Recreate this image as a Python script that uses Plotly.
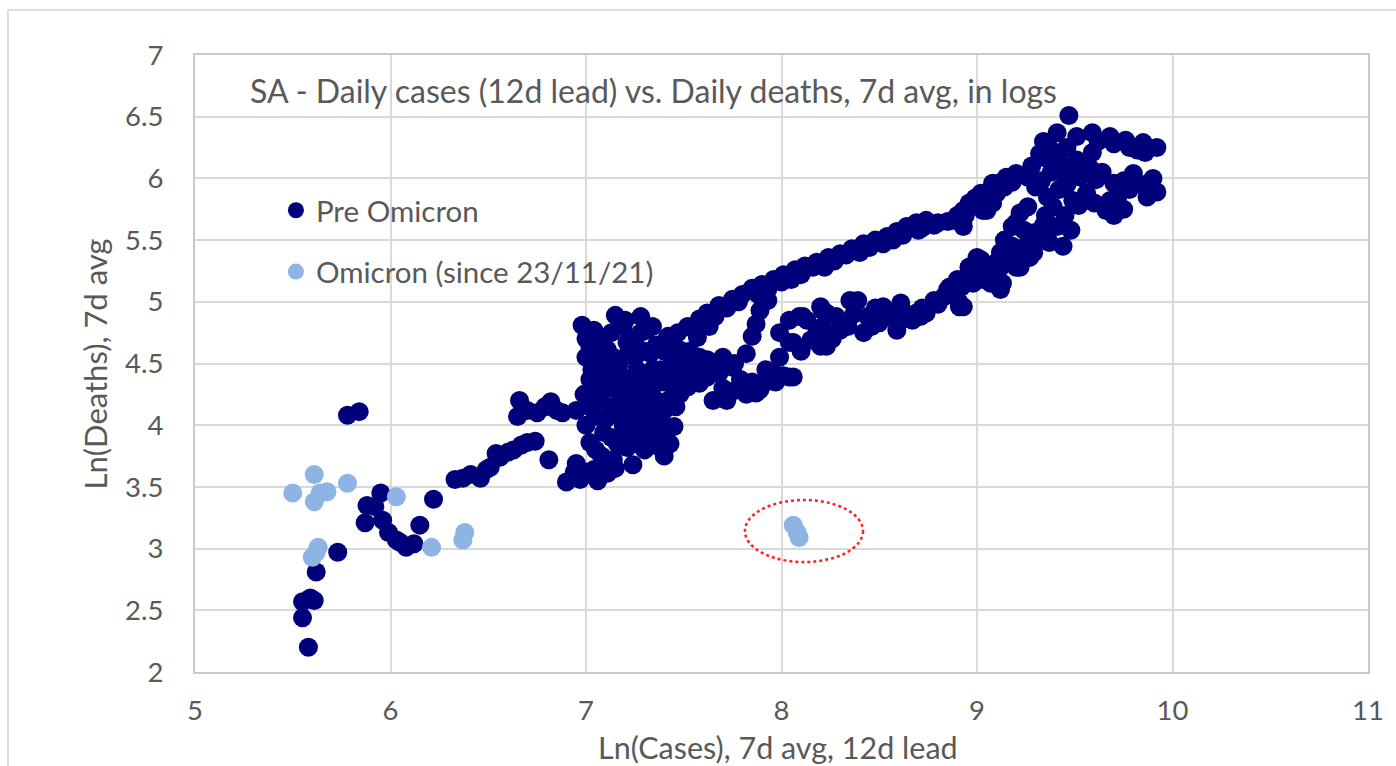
import plotly.graph_objects as go

# ---- data ----
pre_x = [
 5.58,5.55,5.55,5.59,5.61,5.62,5.73,
 5.78,5.84,
 5.87,5.88,5.92,5.95,5.96,5.99,6.03,6.05,6.08,6.12,6.15,6.22,
 6.33,6.37,6.41,6.46,6.49,6.51,6.54,6.56,6.60,6.63,6.67,6.70,6.74,6.81,
 6.65,6.66,6.70,6.75,6.79,6.82,6.85,6.88,6.95,7.02,
 6.90,6.97,6.95,7.00,7.04,7.08,7.11,7.14,7.21,7.24,7.02,7.05,7.09,7.05,7.00,
 6.98,7.04,7.02,7.00,7.04,7.02,7.05,7.07,7.11,7.08,7.12,7.10,
 7.15,7.19,7.28,7.31,7.21,7.17,7.19,7.22,7.26,7.29,7.33,7.36,7.40,7.41,7.38,7.45,7.43,7.48,7.57,7.63,7.52,7.62,7.65,
 7.15,7.25,7.30,7.35,7.28,7.32,7.38,7.45,7.40,7.25,7.18,7.13,7.20,7.36,7.50,7.46,7.55,7.42,7.34,7.23,7.27,
 7.00,7.03,7.06,7.09,7.13,7.10,7.13,7.16,7.19,7.22,7.26,7.30,7.33,7.36,7.40,7.43,7.26,7.30,7.34,7.22,7.30,
 7.40,7.44,7.47,7.36,7.28,7.20,7.18,7.14,7.24,7.32,7.38,7.42,7.48,7.08,7.16,7.12,6.94,7.06,7.15,7.04,6.99,
 7.41,7.47,7.52,7.58,7.62,7.68,7.75,7.80,7.85,7.90,7.96,8.01,8.07,8.12,8.18,8.24,8.30,8.36,8.42,8.48,8.54,8.59,8.64,8.69,8.74,8.80,8.85,8.90,8.93,8.96,8.99,9.03,9.07,9.11,9.15,
 7.55,7.66,7.72,7.78,7.93,8.00,8.10,8.16,8.27,8.33,8.45,8.52,8.62,8.70,8.78,8.88,8.94,9.00,9.05,9.10,9.14,9.18,9.20,
 7.70,7.88,8.05,8.22,8.40,8.57,8.72,
 7.89,7.85,7.82,7.93,7.87,
 7.48,7.58,7.67,7.72,7.87,7.96,8.06,7.58,7.65,7.72,7.79,7.89,7.58,7.62,7.75,8.01,7.92,
 7.50,7.55,7.60,7.68,7.70,7.76,7.82,7.85,7.92,7.97,7.53,7.70,7.76,
 7.99,8.04,8.06,8.13,8.15,8.20,8.21,8.23,8.23,8.30,8.16,8.39,8.44,8.42,8.50,8.59,8.61,8.67,8.74,8.83,8.91,8.90,8.96,9.00,
 7.99,8.09,8.21,8.35,8.52,8.61,8.69,8.78,8.86,8.93,9.03,9.12,9.22,8.71,8.85,8.96,8.04,8.04,8.11,8.20,
 8.10,8.18,8.26,8.28,8.34,8.37,8.46,8.48,8.55,8.64,8.72,8.80,8.88,8.92,8.98,9.05,9.10,9.15,9.18,9.25,9.32,9.34,9.14,9.24,
 9.47,9.41,9.36,9.34,9.42,9.51,9.59,9.68,9.76,9.85,9.86,9.82,9.59,9.51,9.44,9.42,9.39,9.41,9.36,9.29,9.22,9.13,
 9.53,9.61,9.70,9.80,9.88,9.92,9.87,9.78,9.66,9.68,9.56,9.49,
 9.08,9.02,8.96,8.93,9.05,9.26,9.30,9.26,9.20,9.29,9.02,8.96,9.08,9.12,
 9.03,9.08,9.22,9.18,9.29,9.37,9.27,9.20,9.12,9.07,8.95,8.91,
 9.38,9.40,9.46,9.48,9.62,9.70,9.78,9.92,9.58,9.64,9.75,9.84,9.90,9.46,9.52,9.60,9.72,9.45,9.48,9.44,
 9.36,9.33,9.35,9.70,9.34,9.38,9.75,9.28,9.32,
]
pre_y = [
 2.20,2.44,2.57,2.60,2.58,2.81,2.97,
 4.08,4.11,
 3.21,3.35,3.34,3.45,3.23,3.13,3.07,3.05,3.01,3.04,3.19,3.40,
 3.56,3.57,3.60,3.57,3.64,3.66,3.77,3.74,3.78,3.80,3.84,3.86,3.87,3.72,
 4.07,4.20,4.12,4.10,4.15,4.19,4.12,4.10,4.12,4.15,
 3.54,3.56,3.69,3.62,3.64,3.66,3.61,3.72,3.82,3.68,3.86,3.80,3.94,4.07,4.00,
 4.81,4.77,4.63,4.70,4.50,4.37,4.30,4.23,4.61,4.40,4.15,4.05,
 4.89,4.80,4.88,4.77,4.67,4.50,4.29,4.07,4.23,4.39,4.58,4.34,4.12,3.88,3.82,3.99,4.47,4.61,4.71,4.80,4.31,4.39,4.20,
 4.40,4.55,4.10,4.00,3.95,4.25,4.45,4.30,4.60,4.70,4.20,3.90,3.95,4.20,4.45,4.15,4.38,4.72,4.80,4.35,4.05,
 4.55,4.45,4.60,4.70,4.75,4.50,4.30,4.10,4.00,3.90,3.85,3.80,3.90,3.95,3.75,3.85,4.45,4.60,4.45,4.60,4.30,
 4.35,4.55,4.40,4.65,4.75,4.85,4.40,4.55,4.15,4.15,4.05,4.20,4.25,3.75,3.85,3.68,3.62,3.55,3.65,4.20,4.25,
 4.69,4.75,4.80,4.86,4.91,4.97,5.02,5.06,5.11,5.14,5.18,5.22,5.26,5.29,5.32,5.36,5.39,5.43,5.47,5.50,5.53,5.57,5.61,5.64,5.66,5.64,5.65,5.70,5.74,5.79,5.84,5.87,5.91,5.96,6.01,
 4.78,4.88,4.95,5.00,5.10,5.16,5.22,5.28,5.33,5.38,5.44,5.47,5.54,5.58,5.62,5.66,5.70,5.78,5.83,5.88,5.93,5.97,6.04,
 4.95,5.06,5.18,5.28,5.40,5.50,5.60,
 4.93,4.72,4.58,5.01,4.82,
 4.53,4.55,4.50,4.20,4.26,4.42,4.39,4.34,4.47,4.23,4.37,4.29,4.39,4.53,4.47,4.40,4.35,
 4.50,4.45,4.45,4.42,4.30,4.28,4.25,4.35,4.45,4.35,4.60,4.55,4.50,
 4.55,4.67,4.67,4.85,4.69,4.64,4.93,4.64,4.91,4.77,4.69,5.01,4.88,4.75,4.83,4.77,4.99,4.85,4.91,5.04,4.96,5.18,5.26,5.36,
 4.75,4.88,4.80,5.01,4.96,4.85,4.91,5.01,5.12,4.96,5.18,5.40,5.34,4.88,5.10,5.28,4.39,4.85,4.88,4.96,
 4.60,4.75,4.70,4.88,4.80,4.90,4.80,4.95,4.88,4.90,4.95,4.98,5.05,5.12,5.15,5.25,5.32,5.36,5.45,5.45,5.55,5.62,5.50,5.58,
 6.51,6.37,6.29,6.17,6.21,6.34,6.37,6.34,6.31,6.29,6.21,6.23,6.21,6.15,6.04,5.91,5.77,5.61,5.50,5.40,5.28,5.15,
 6.01,5.99,5.96,6.04,5.96,5.89,5.85,5.91,5.74,5.82,5.88,5.82,
 5.96,5.88,5.80,5.61,5.74,6.01,5.93,5.77,5.64,5.56,5.34,5.28,5.20,5.10,
 5.74,5.80,5.72,5.61,5.50,5.48,5.36,5.28,5.28,5.15,5.20,4.99,
 6.05,6.12,6.25,6.10,6.30,6.28,6.25,6.25,6.08,6.05,5.98,5.95,6.00,5.95,5.78,5.80,5.85,5.70,5.58,5.45,
 5.85,5.98,5.70,5.70,6.30,6.22,5.75,6.10,6.20,
]

omi_x = [5.50,5.61,5.64,5.61,5.675,5.78,6.03,5.63,5.60,5.62,6.21,6.38,6.37,8.06,8.08,8.09]
omi_y = [3.45,3.60,3.45,3.38,3.46,3.53,3.42,3.01,2.93,2.97,3.01,3.13,3.07,3.19,3.13,3.09]

x_ticks = [5, 6, 7, 8, 9, 10, 11]
y_ticks = [2, 2.5, 3, 3.5, 4, 4.5, 5, 5.5, 6, 6.5, 7]

title_text = "SA - Daily cases (12d lead) vs. Daily deaths, 7d avg, in logs"
x_title = "Ln(Cases), 7d avg, 12d lead"
y_title = "Ln(Deaths), 7d avg"

DARK = "#00007A"
LIGHT = "#8DB4E2"
TXT = "#595959"
GRID = "#D9D9D9"
FONT = "Lato"

fig = go.Figure()
fig.add_trace(go.Scatter(x=pre_x, y=pre_y, mode="markers", name="Pre Omicron",
                         legendgroup="a",
                         marker=dict(color=DARK, size=19, line=dict(width=0))))
fig.add_trace(go.Scatter(x=omi_x, y=omi_y, mode="markers", name="Omicron (since 23/11/21)",
                         legendgroup="b",
                         marker=dict(color=LIGHT, size=19, line=dict(width=0))))

axis_common = dict(showgrid=True, gridcolor=GRID, gridwidth=2, zeroline=False,
                   showline=True, linecolor="#C9C9C9", linewidth=2, mirror=True,
                   automargin=False,
                   ticks="", tickfont=dict(family=FONT, size=27.5, color=TXT))

fig.update_xaxes(range=[5, 11], tickvals=x_ticks, ticklabelstandoff=13, **axis_common)
fig.update_yaxes(range=[2, 7], tickvals=y_ticks, ticklabelstandoff=24, **axis_common)

fig.add_shape(type="circle", xref="x", yref="y", x0=7.813, x1=8.417, y0=2.891, y1=3.394,
              line=dict(color="#FF2020", width=2.5, dash="dot"))

# outer frame (top and left edges visible in the reference)
fig.add_shape(type="line", xref="paper", yref="paper", x0=-0.1594, x1=1.03, y0=1.0729, y1=1.0729,
              line=dict(color="#DDDDDD", width=2))
fig.add_shape(type="line", xref="paper", yref="paper", x0=-0.1594, x1=-0.1594, y0=-0.16, y1=1.0729,
              line=dict(color="#DDDDDD", width=2))

fig.add_annotation(text=title_text, xref="x", yref="y", x=5.27, y=6.71, xanchor="left",
                   yanchor="middle", showarrow=False, font=dict(family=FONT, size=32, color=TXT))
fig.add_annotation(text=x_title, xref="paper", yref="paper", x=0.497, y=-0.121, xanchor="center",
                   yanchor="middle", showarrow=False, font=dict(family=FONT, size=30.5, color=TXT))
fig.add_annotation(text=y_title, xref="paper", yref="paper", x=-0.0853, y=0.5, xanchor="center",
                   yanchor="middle", textangle=-90, showarrow=False,
                   font=dict(family=FONT, size=31, color=TXT))

fig.update_layout(
    width=1396, height=766,
    margin=dict(l=195, r=28, t=55, b=94),
    paper_bgcolor="white", plot_bgcolor="white",
    showlegend=True,
    legend=dict(x=0.069, y=0.79, xanchor="left", yanchor="top", bgcolor="rgba(0,0,0,0)",
                font=dict(family=FONT, size=29.5, color=TXT), tracegroupgap=20,
                itemsizing="trace"),
)

fig.write_html("out.html", config={"displayModeBar": False},
               post_script="document.body.style.margin='0';document.body.style.overflow='hidden';")
